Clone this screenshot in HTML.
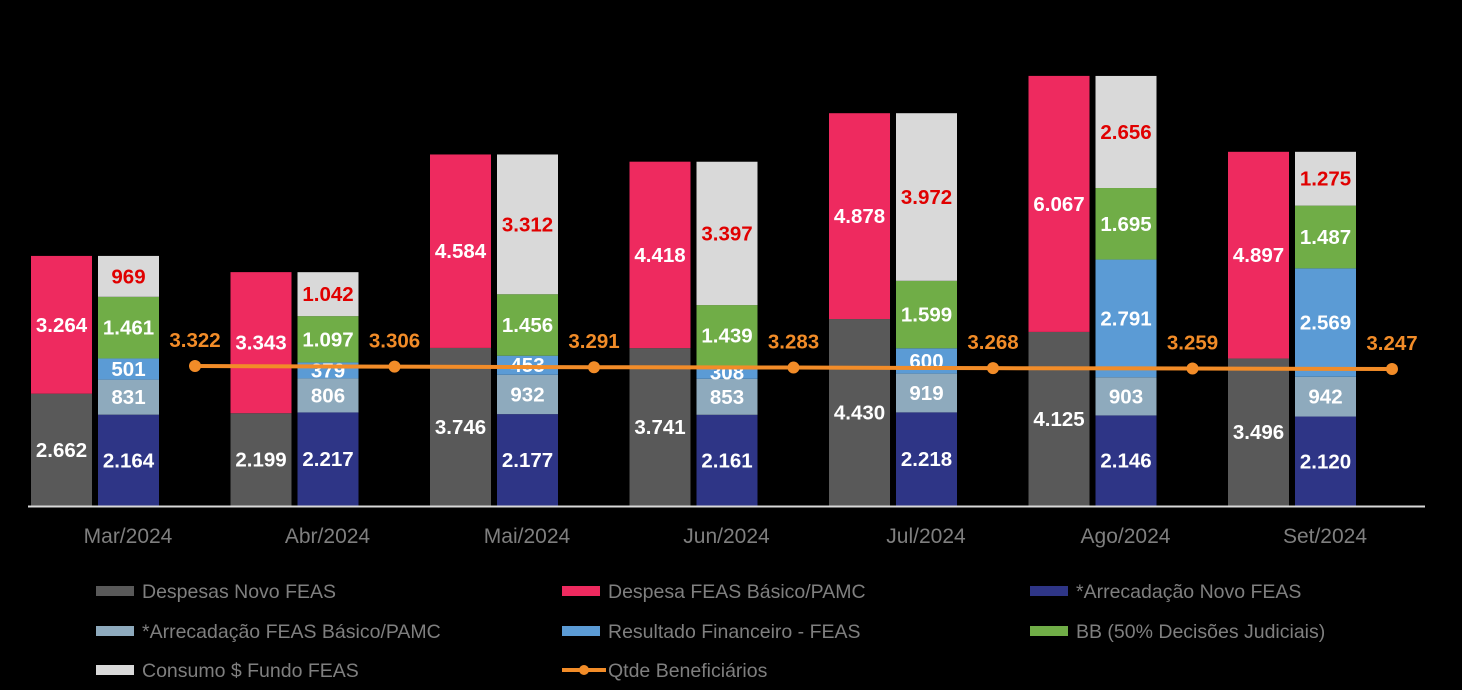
<!DOCTYPE html>
<html><head><meta charset="utf-8"><style>
body{margin:0;background:#000;}
svg{display:block;font-family:"Liberation Sans",sans-serif;}
</style></head><body>
<svg id="chart" width="1462" height="690" viewBox="0 0 1462 690">
<rect width="1462" height="690" fill="#000"/>
<g id="bars"></g>
<line x1="28" y1="506.5" x2="1425" y2="506.5" stroke="#d9d9d9" stroke-width="2"/>
<g id="line"></g>
<g id="legend"></g>
</svg>
<script>
const categories=["Mar/2024","Abr/2024","Mai/2024","Jun/2024","Jul/2024","Ago/2024","Set/2024"];
const despesasNovo=[2662,2199,3746,3741,4430,4125,3496];
const despesaBasico=[3264,3343,4584,4418,4878,6067,4897];
const arrecNovo=[2164,2217,2177,2161,2218,2146,2120];
const arrecBasico=[831,806,932,853,919,903,942];
const resultadoFin=[501,379,453,308,600,2791,2569];
const bbJudiciais=[1461,1097,1456,1439,1599,1695,1487];
const consumoFundo=[969,1042,3312,3397,3972,2656,1275];
const beneficiarios=[3322,3306,3291,3283,3268,3259,3247];
const fmt=v=>v>=1000?Math.floor(v/1000)+"."+String(v%1000).padStart(3,"0"):String(v);
const NS="http://www.w3.org/2000/svg";
const Y0=506, K=0.0422;
const yScale=v=>Y0-v*K;
const y2Scale=v=>366-(v-3322)*0.04;
const xGroup=i=>31+199.5*i;
const BW=61;
function mk(tag,attrs,parent){const e=document.createElementNS(NS,tag);for(const k in attrs)e.setAttribute(k,attrs[k]);parent.appendChild(e);return e;}
const bars=document.getElementById("bars");
const left=[[despesasNovo,"#595959","#fff","despesas-novo-feas"],[despesaBasico,"#ee2a5f","#fff","despesa-feas-basico"]];
const right=[[arrecNovo,"#2e3586","#fff","arrecadacao-novo-feas"],[arrecBasico,"#8eaabd","#fff","arrecadacao-feas-basico"],[resultadoFin,"#5b9bd5","#fff","resultado-financeiro"],[bbJudiciais,"#70ad47","#fff","bb-decisoes-judiciais"],[consumoFundo,"#d9d9d9","#e00000","consumo-fundo-feas"]];
function stack(series,x,i){
  let acc=0;
  series.forEach(([arr,col,tc,name])=>{
    const v=arr[i];const y1=yScale(acc),y2=yScale(acc+v);
    const r=mk("rect",{x:x,y:y2,width:BW,height:y1-y2,fill:col},bars);
    
    
    const t=mk("text",{x:x+BW/2,y:(y1+y2)/2+7,"text-anchor":"middle","font-size":"20.5","font-weight":"bold",fill:tc},bars);
    t.textContent=fmt(v);
    
    
    acc+=v;
  });
}
categories.forEach((c,i)=>{
  const x=xGroup(i);
  stack(left,x,i);
  stack(right,x+67,i);
  const t=mk("text",{x:x+97,y:543,"text-anchor":"middle","font-size":"21",fill:"#7f7f7f"},bars);
  t.textContent=c;
  
  
});
const lg=document.getElementById("line");
const pts=beneficiarios.map((v,i)=>[xGroup(i)+164,y2Scale(v)]);
const pl=mk("polyline",{points:pts.map(p=>p.join(",")).join(" "),fill:"none",stroke:"#f28c28","stroke-width":"4"},lg);


pts.forEach((p,i)=>{
  const c=mk("circle",{cx:p[0],cy:p[1],r:6,fill:"#f28c28"},lg);
  
  
  const t=mk("text",{x:p[0],y:p[1]-19,"text-anchor":"middle","font-size":"20.5","font-weight":"bold",fill:"#f28c28"},lg);
  t.textContent=fmt(beneficiarios[i]);
  
  
});
const legendItems=[["Despesas Novo FEAS","#595959",96,591],["Despesa FEAS Básico/PAMC","#ee2a5f",562,591],["*Arrecadação Novo FEAS","#2e3586",1030,591],["*Arrecadação FEAS Básico/PAMC","#8eaabd",96,631],["Resultado Financeiro - FEAS","#5b9bd5",562,631],["BB (50% Decisões Judiciais)","#70ad47",1030,631],["Consumo $ Fundo FEAS","#d9d9d9",96,670]];
const leg=document.getElementById("legend");
legendItems.forEach(([label,col,x,y])=>{
  const r=mk("rect",{x:x,y:y-5,width:38,height:10,fill:col},leg);
  
  
  const t=mk("text",{x:x+46,y:y+7,"font-size":"19.5",fill:"#7f7f7f"},leg);
  t.textContent=label;
  
  
});
const ll=mk("line",{x1:562,y1:670,x2:606,y2:670,stroke:"#f28c28","stroke-width":"4"},leg);


const lc=mk("circle",{cx:584,cy:670,r:5,fill:"#f28c28"},leg);


const lt=mk("text",{x:608,y:677,"font-size":"19.5",fill:"#7f7f7f"},leg);
lt.textContent="Qtde Beneficiários";


</script>
</body></html>
